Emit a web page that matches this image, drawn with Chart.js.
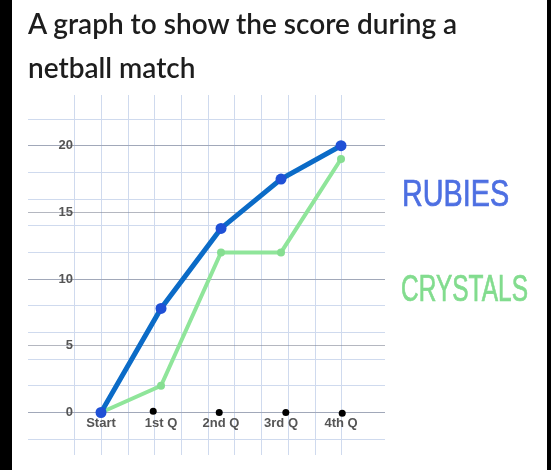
<!DOCTYPE html>
<html>
<head>
<meta charset="utf-8">
<script src="https://cdn.jsdelivr.net/npm/chart.js@4.4.0/dist/chart.umd.min.js"></script>
<style>
  html, body { margin: 0; padding: 0; background: #fff; }
  #page { position: relative; width: 551px; height: 470px; overflow: hidden; background: #fff; }
  #chart { position: absolute; left: 0; top: 0; z-index: 1; }
  #frame {
    position: absolute; left: 0; top: 0; width: 551px; height: 470px; z-index: 10;
    box-shadow: inset 12px 0 0 #000, inset -4px 0 0 #000; pointer-events: none;
  }
  #title {
    position: absolute; left: 28px; top: 1px; z-index: 2;
    font-family: "Lato", sans-serif; font-weight: 600;
    font-size: 28px; line-height: 44px; color: #1d1d1d; white-space: nowrap;
  }
  .team {
    position: absolute; z-index: 2; white-space: nowrap;
    font-family: "Liberation Sans Narrow", "Liberation Sans", sans-serif;
    font-size: 36px; line-height: 36px; transform-origin: left top;
    -webkit-text-stroke: 0.7px currentColor;
  }
  #rubies { left: 402px; top: 176px; color: #4d6fe2; transform: scaleX(0.8); }
  #crystals { left: 401px; top: 271px; color: #82dc8e; transform: scaleX(0.68); }
</style>
</head>
<body>
<div id="page">
  <canvas id="chart" width="551" height="470"></canvas>
  <div id="title">A graph to show the score during a<br>netball match</div>
  <div class="team" id="rubies">RUBIES</div>
  <div class="team" id="crystals">CRYSTALS</div>
  <div id="frame"></div>
</div>
<script>
// Data
const quarters = ["Start", "1st Q", "2nd Q", "3rd Q", "4th Q"];
const rubies = [0, 7.8, 13.8, 17.5, 20];
const crystals = [0, 2, 12, 12, 19];
// the little black dots sitting on the x axis
const dotX = [0.87, 1.97, 3.08, 4.02];
const dotY = [0.1, 0, 0, -0.05];
const scoreTicks = [0, 5, 10, 15, 20];

const toPoints = (vals) => vals.map((v, i) => ({ x: i, y: v }));

const tickFont = { family: "Liberation Sans", size: 13, weight: "bold" };

new Chart(document.getElementById("chart"), {
    type: "line",
    data: {
        datasets: [
            {
                label: "RUBIES",
                data: toPoints(rubies),
                xAxisID: "x",
                yAxisID: "y",
                borderColor: "#0b6bc7",
                borderWidth: 5,
                pointRadius: 5.5,
                pointBackgroundColor: "#1f50d6",
                pointBorderWidth: 0,
                tension: 0
            },
            {
                label: "CRYSTALS",
                data: toPoints(crystals),
                xAxisID: "x",
                yAxisID: "y",
                borderColor: "#8fe59a",
                borderWidth: 4,
                pointRadius: 4,
                pointBackgroundColor: "#86de91",
                pointBorderWidth: 0,
                tension: 0
            },
            {
                label: "dots",
                data: dotX.map((x, i) => ({ x: x, y: dotY[i] })),
                xAxisID: "x",
                yAxisID: "y",
                showLine: false,
                pointRadius: 3.5,
                pointBackgroundColor: "#000",
                pointBorderWidth: 0
            }
        ]
    },
    options: {
        responsive: false,
        animation: false,
        devicePixelRatio: 1,
        layout: { padding: { left: 28, top: 95, right: 166, bottom: 13 } },
        plugins: {
            legend: { display: false },
            tooltip: { enabled: false }
        },
        scales: {
            // graph paper squares
            xg: {
                type: "linear",
                position: "bottom",
                min: -0.75,
                max: 12.62,
                ticks: { display: false, stepSize: 1 },
                afterBuildTicks: (s) => { s.ticks = s.ticks.filter(t => Number.isInteger(t.value)); },
                grid: { color: "#cfdaee", drawTicks: false },
                border: { display: false }
            },
            yg: {
                type: "linear",
                position: "left",
                min: -3.2,
                max: 23.8,
                ticks: { display: false, stepSize: 2 },
                afterBuildTicks: (s) => { s.ticks = s.ticks.filter(t => Number.isInteger(t.value) && t.value % 2 === 0); },
                grid: { color: "#cfdaee", drawTicks: false },
                border: { display: false }
            },
            x: {
                type: "linear",
                min: -1.2167,
                max: 4.733,
                position: { y: 0 },
                afterBuildTicks: (s) => { s.ticks = quarters.map((q, i) => ({ value: i })); },
                grid: { display: false, drawTicks: false },
                border: { display: false },
                ticks: {
                    callback: (v) => quarters[v],
                    color: "#555",
                    font: tickFont,
                    padding: 3,
                    autoSkip: false,
                    maxRotation: 0
                }
            },
            y: {
                type: "linear",
                min: -3.2,
                max: 23.8,
                position: { x: -0.467 },
                afterBuildTicks: (s) => { s.ticks = scoreTicks.map(v => ({ value: v })); },
                grid: { color: "rgba(130,135,150,0.6)", drawTicks: false },
                border: { display: false },
                ticks: { color: "#555", font: tickFont, padding: 7 }
            }
        }
    }
});
</script>
</body>
</html>
